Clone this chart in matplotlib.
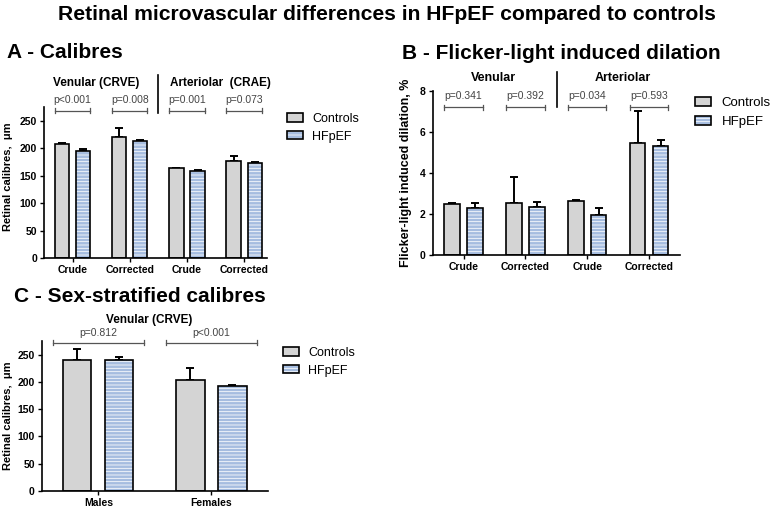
"""Retinal microvascular differences in HFpEF vs controls: three bar panels."""
import matplotlib
matplotlib.use("Agg")
import matplotlib.pyplot as plt
import numpy as np
from matplotlib.patches import Patch

plt.rcParams["font.family"] = ["Liberation Sans", "DejaVu Sans"]
plt.rcParams["hatch.linewidth"] = 0.55

W, H = 774, 509

CTRL_COLOR = "#d4d4d4"
HF_COLOR = "#a6bde0"

# --- panel A: calibres ---
groups_a = ["Crude", "Corrected", "Crude", "Corrected"]
ctrl_a = [208, 221, 164, 176]
ctrl_a_err = [1, 15, 0.5, 9]
hf_a = [195, 213, 158, 173]
hf_a_err = [3, 2, 2, 1.5]
pvals_a = ["p<0.001", "p=0.008", "p=0.001", "p=0.073"]

# --- panel B: flicker-light induced dilation ---
groups_b = ["Crude", "Corrected", "Crude", "Corrected"]
ctrl_b = [2.50, 2.55, 2.63, 5.45]
ctrl_b_err = [0.04, 1.25, 0.03, 1.55]
hf_b = [2.29, 2.33, 1.95, 5.29]
hf_b_err = [0.26, 0.25, 0.32, 0.33]
pvals_b = ["p=0.341", "p=0.392", "p=0.034", "p=0.593"]

# --- panel C: sex-stratified venular calibres ---
groups_c = ["Males", "Females"]
ctrl_c = [240, 204]
ctrl_c_err = [20, 21]
hf_c = [241, 192]
hf_c_err = [4, 3]
pvals_c = ["p=0.812", "p<0.001"]

BAR_W = 0.25
OFF = 0.185


def px_axes(fig, left, top, right, bottom):
    return fig.add_axes([left / W, 1 - bottom / H, (right - left) / W, (bottom - top) / H])


def draw_bars(ax, ctrl, ctrl_err, hf, hf_err, labels):
    x = np.arange(len(ctrl))
    ax.errorbar(x - OFF, ctrl, yerr=[np.zeros(len(ctrl)), ctrl_err], fmt="none",
                ecolor="black", elinewidth=1.4, capsize=2.8, capthick=1.4, zorder=1)
    ax.errorbar(x + OFF, hf, yerr=[np.zeros(len(hf)), hf_err], fmt="none",
                ecolor="black", elinewidth=1.4, capsize=2.8, capthick=1.4, zorder=1)
    ax.bar(x - OFF, ctrl, BAR_W, color=CTRL_COLOR, edgecolor="black", linewidth=1.2, zorder=2)
    # striped bars: white hatch over blue, then a black outline on top
    ax.bar(x + OFF, hf, BAR_W, color=HF_COLOR, edgecolor="white", linewidth=0,
           hatch="-----", zorder=2)
    ax.bar(x + OFF, hf, BAR_W, fill=False, edgecolor="black", linewidth=1.2, zorder=3)

    ax.set_xticks(x)
    ax.set_xticklabels(labels, fontsize=7.5, fontweight="bold")
    for s in ("top", "right"):
        ax.spines[s].set_visible(False)
    for s in ("left", "bottom"):
        ax.spines[s].set_linewidth(1.2)
    ax.tick_params(axis="both", direction="out", length=3, width=1, pad=2)
    return x


def bold_yticks(ax, ticks):
    ax.set_yticks(ticks)
    for t in ax.get_yticklabels():
        t.set_fontweight("bold")
        t.set_fontsize(7.5)


def bracket(ax, xc, half, y, dy, text, ty):
    ax.plot([xc - half, xc + half], [y, y], color="#555555", lw=0.9, clip_on=False)
    for xe in (xc - half, xc + half):
        ax.plot([xe, xe], [y - dy, y + dy], color="#555555", lw=0.9, clip_on=False)
    ax.text(xc, ty, text, ha="center", va="center", fontsize=7.5, color="#444444")


def legend(fig, x, y, fs, spacing=0.45):
    h_ctrl = Patch(facecolor=CTRL_COLOR, edgecolor="black", linewidth=1.2)
    h_hf = (Patch(facecolor=HF_COLOR, edgecolor="white", linewidth=0, hatch="-----"),
            Patch(fill=False, edgecolor="black", linewidth=1.2))
    fig.legend([h_ctrl, h_hf], ["Controls", "HFpEF"], loc="upper left",
               bbox_to_anchor=(x / W, 1 - y / H), frameon=False, fontsize=fs,
               handlelength=1.25, handleheight=0.65, handletextpad=0.75,
               labelspacing=spacing, borderpad=0, borderaxespad=0)


fig = plt.figure(figsize=(W / 100, H / 100), dpi=100)

fig.text(387 / W, 1 - 20 / H, "Retinal microvascular differences in HFpEF compared to controls",
         ha="center", va="baseline", fontsize=15.2, fontweight="bold")
fig.text(7 / W, 1 - 58 / H, "A - Calibres", ha="left", va="baseline", fontsize=15, fontweight="bold")
fig.text(402 / W, 1 - 59 / H, "B - Flicker-light induced dilation", ha="left", va="baseline",
         fontsize=15, fontweight="bold")
fig.text(14 / W, 1 - 302 / H, "C - Sex-stratified calibres", ha="left", va="baseline",
         fontsize=15, fontweight="bold")

# panel A
ax_a = px_axes(fig, 44, 107, 267, 258)
xa = draw_bars(ax_a, ctrl_a, ctrl_a_err, hf_a, hf_a_err, groups_a)
ax_a.set_xlim(-0.5, 3.4)
ax_a.set_ylim(0, 275)
bold_yticks(ax_a, np.arange(0, 251, 50))
ax_a.set_ylabel("Retinal calibres,  μm", fontsize=8, fontweight="bold")
ax_a.yaxis.set_label_coords(-0.139, 0.54)
for xc, p in zip(xa, pvals_a):
    bracket(ax_a, xc, OFF + BAR_W / 2, 268, 4.5, p, 287)
ax_a.text(0.42, 319, "Venular (CRVE)", ha="center", va="center", fontsize=8.5, fontweight="bold")
ax_a.text(2.58, 319, "Arteriolar  (CRAE)", ha="center", va="center", fontsize=8.5,
          fontweight="bold")
ax_a.plot([1.49, 1.49], [264, 333], color="black", lw=1.2, clip_on=False)
legend(fig, 287, 113, 9)

# panel B
ax_b = px_axes(fig, 432.7, 90.7, 680, 255)
xb = draw_bars(ax_b, ctrl_b, ctrl_b_err, hf_b, hf_b_err, groups_b)
ax_b.set_xlim(-0.5, 3.5)
ax_b.set_ylim(0, 8)
bold_yticks(ax_b, np.arange(0, 9, 2))
ax_b.set_ylabel("Flicker-light induced dilation, %", fontsize=9, fontweight="bold")
ax_b.yaxis.set_label_coords(-0.084, 0.5)
for xc, p in zip(xb, pvals_b):
    bracket(ax_b, xc, OFF + BAR_W / 2, 7.2, 0.12, p, 7.76)
ax_b.text(0.48, 8.62, "Venular", ha="center", va="center", fontsize=9, fontweight="bold")
ax_b.text(2.58, 8.62, "Arteriolar", ha="center", va="center", fontsize=9, fontweight="bold")
ax_b.plot([1.51, 1.51], [7.2, 8.9], color="black", lw=1.2, clip_on=False)
legend(fig, 695, 97, 9.5, spacing=0.55)

# panel C
ax_c = px_axes(fig, 41.7, 341, 268, 491)
xc_ = draw_bars(ax_c, ctrl_c, ctrl_c_err, hf_c, hf_c_err, groups_c)
ax_c.set_xlim(-0.5, 1.5)
ax_c.set_ylim(0, 275)
bold_yticks(ax_c, np.arange(0, 251, 50))
ax_c.set_ylabel("Retinal calibres,  μm", fontsize=8, fontweight="bold")
ax_c.yaxis.set_label_coords(-0.127, 0.5)
for xc, p in zip(xc_, pvals_c):
    bracket(ax_c, xc, 0.4, 272, 4.5, p, 289)
ax_c.text(0.45, 313, "Venular (CRVE)", ha="center", va="center", fontsize=8.5, fontweight="bold")
legend(fig, 283, 347, 9)

fig.savefig("out.png", dpi=100)
